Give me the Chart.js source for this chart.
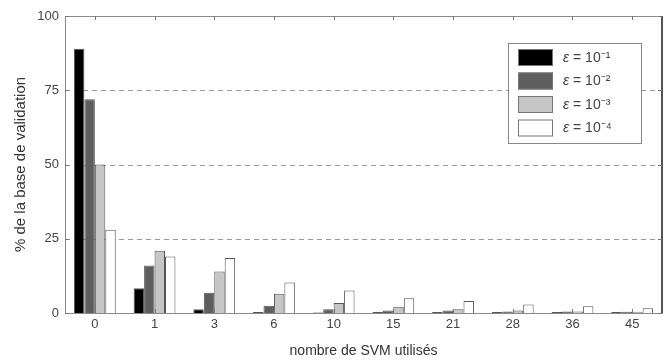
<!DOCTYPE html>
<html>
<head>
<meta charset="utf-8">
<script src="https://cdn.jsdelivr.net/npm/chart.js@4/dist/chart.umd.min.js"></script>
<style>
  html, body { margin: 0; padding: 0; background: #fff; }
  #wrap { width: 668px; height: 360px; }
</style>
</head>
<body>
<div id="wrap"><canvas id="graphe"></canvas></div>
<script>
const categories = ["0", "1", "3", "6", "10", "15", "21", "28", "36", "45"];
const eps1 = [89, 8.3, 1.3, 0.3, 0.2, 0.3, 0.3, 0.3, 0.3, 0.3];
const eps2 = [72, 16, 6.8, 2.4, 1.3, 0.8, 0.8, 0.5, 0.5, 0.4];
const eps3 = [50, 21, 14, 6.5, 3.4, 2.1, 1.3, 0.8, 0.5, 0.4];
const eps4 = [28, 19, 18.5, 10.3, 7.6, 5, 4, 2.9, 2.3, 1.6];
const seriesLabels = ["\u03b5 = 10\u207b\u00b9", "\u03b5 = 10\u207b\u00b2", "\u03b5 = 10\u207b\u00b3", "\u03b5 = 10\u207b\u2074"];
const yTicks = [0, 25, 50, 75, 100];

const couleurs = ["#000000", "#5e5e5e", "#c6c6c6", "#ffffff"];
const texte = "#444";
const police = "'Liberation Sans', Arial, sans-serif";

// lignes pointillées derrière les barres
const grille = {
    id: "grille",
    beforeDatasetsDraw(chart) {
        const ctx = chart.ctx;
        const a = chart.chartArea;
        const y = chart.scales.y;
        ctx.save();
        ctx.strokeStyle = "#999";
        ctx.lineWidth = 1;
        ctx.setLineDash([5, 4]);
        ctx.beginPath();
        [25, 50, 75].forEach(v => {
            const py = Math.round(y.getPixelForValue(v)) + 0.5;
            ctx.moveTo(a.left, py);
            ctx.lineTo(a.right, py);
        });
        ctx.stroke();
        ctx.restore();
    }
};

// cadre, petites graduations et légende dans la zone du graphe
const cadre = {
    id: "cadre",
    afterDraw(chart) {
        const ctx = chart.ctx;
        const a = chart.chartArea;
        const x = chart.scales.x;
        const y = chart.scales.y;
        ctx.save();
        ctx.strokeStyle = "#8a8a8a";
        ctx.lineWidth = 1;
        ctx.strokeRect(a.left + 0.5, a.top + 0.5, a.right - a.left, a.bottom - a.top);
        ctx.strokeStyle = "#555";
        ctx.lineWidth = 2;
        ctx.beginPath();
        ctx.moveTo(a.right, a.top);
        ctx.lineTo(a.right, a.bottom);
        ctx.stroke();
        ctx.lineWidth = 1;
        ctx.strokeStyle = "#777";
        ctx.beginPath();
        categories.forEach((c, i) => {
            const px = Math.round(x.getPixelForValue(i)) + 0.5;
            ctx.moveTo(px, a.top);
            ctx.lineTo(px, a.top + 4);
            ctx.moveTo(px, a.bottom);
            ctx.lineTo(px, a.bottom - 4);
        });
        yTicks.forEach(v => {
            const py = Math.round(y.getPixelForValue(v)) + 0.5;
            ctx.moveTo(a.left, py);
            ctx.lineTo(a.left + 4, py);
            ctx.moveTo(a.right, py);
            ctx.lineTo(a.right - 4, py);
        });
        ctx.stroke();

        // légende (epsilon en italique)
        const lx = 508, ly = 43, lw = 133, lh = 100;
        ctx.fillStyle = "#fff";
        ctx.fillRect(lx, ly, lw, lh);
        ctx.strokeStyle = "#888";
        ctx.strokeRect(lx + 0.5, ly + 0.5, lw, lh);
        ctx.textBaseline = "middle";
        chart.data.datasets.forEach((ds, i) => {
            const cy = ly + 14 + i * 23.5;
            ctx.fillStyle = ds.backgroundColor;
            ctx.fillRect(lx + 10, cy - 8, 35, 17);
            ctx.strokeStyle = "#777";
            ctx.strokeRect(lx + 10.5, cy - 7.5, 34, 16);
            ctx.fillStyle = texte;
            const lettre = ds.label.charAt(0);
            const reste = ds.label.slice(1);
            ctx.font = "italic 14px " + police;
            ctx.fillText(lettre, lx + 55, cy + 1);
            const w = ctx.measureText(lettre).width;
            ctx.font = "14px " + police;
            ctx.fillText(reste, lx + 55 + w, cy + 1);
        });
        ctx.restore();
    }
};

const datasets = [eps1, eps2, eps3, eps4].map((d, i) => ({
    label: seriesLabels[i],
    data: d,
    backgroundColor: couleurs[i],
    borderColor: "#555",
    borderWidth: 1,
    borderSkipped: "bottom",
    categoryPercentage: 0.7,
    barPercentage: 1.0
}));

new Chart(document.getElementById("graphe").getContext("2d"), {
    type: "bar",
    data: { labels: categories, datasets: datasets },
    plugins: [grille, cadre],
    options: {
        responsive: true,
        maintainAspectRatio: false,
        animation: false,
        layout: { padding: { top: 16, right: 6, left: 0, bottom: 0 } },
        plugins: {
            legend: { display: false },
            tooltip: { enabled: false }
        },
        scales: {
            x: {
                grid: { display: false, drawTicks: false },
                border: { display: false },
                ticks: { color: texte, font: { family: police, size: 13 }, padding: 4 },
                title: { display: true, text: "nombre de SVM utilisés", color: "#333", font: { family: police, size: 14 }, padding: { top: 6, bottom: 0 } },
                afterFit(s) { s.height = 47; }
            },
            y: {
                min: 0,
                max: 100,
                afterBuildTicks(s) { s.ticks = yTicks.map(v => ({ value: v })); },
                grid: { display: false, drawTicks: false },
                border: { display: false },
                ticks: { color: texte, font: { family: police, size: 13 }, padding: 6 },
                title: { display: true, text: "% de la base de validation", color: "#333", font: { family: police, size: 15 }, padding: { top: 12, bottom: 0 } },
                afterFit(s) { s.width = 65; }
            }
        }
    }
});
</script>
</body>
</html>
